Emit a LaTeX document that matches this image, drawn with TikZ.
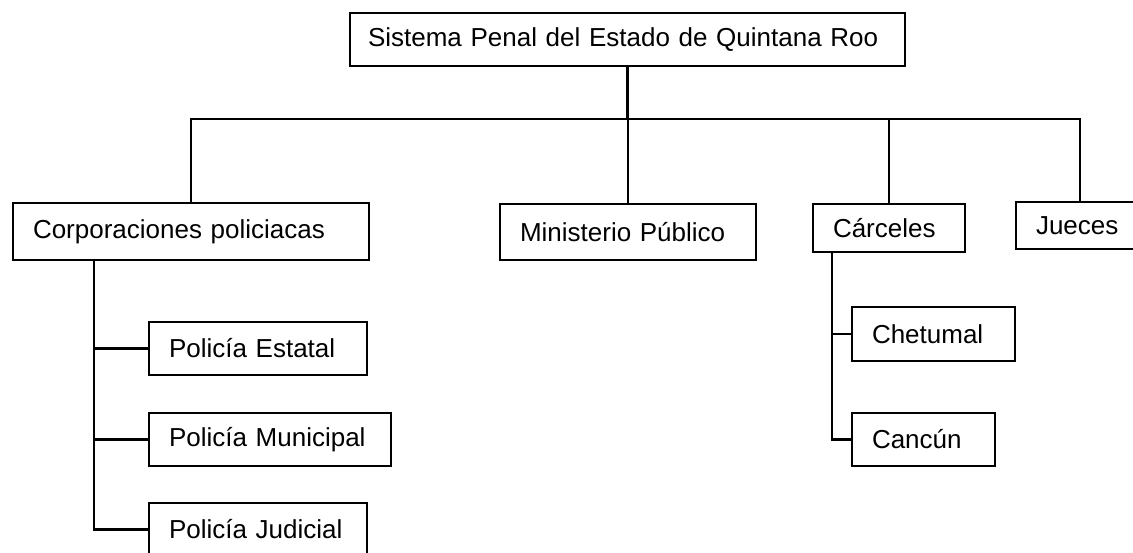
\documentclass[tikz,border=0pt]{standalone}
\usepackage{fontspec}
\setmainfont{Liberation Sans}
\usetikzlibrary{positioning}

\begin{document}
\begin{tikzpicture}[x=1pt, y=-1pt,
	box/.style={draw, line width=2pt, anchor=north west, align=left, inner xsep=20pt, inner ysep=0pt, font=\fontsize{26}{30}\selectfont},
	link/.style={line width=2.2pt}]
		\useasboundingbox (0,0) rectangle (1133,552);
		\node[box, inner xsep=18pt, text width=519pt, minimum height=53pt] (sistema) at (349,12) {Sistema Penal del Estado de Quintana Roo};
		\node[box, text width=316pt, minimum height=57pt] (corp) at (12,202) {Corporaciones policiacas};
		\node[box, text width=216pt, minimum height=56pt] (ministerio) at (499,203) {Ministerio Público};
		\node[box, text width=112pt, minimum height=48pt] (carceles) at (812,203) {Cárceles};
		\node[box, text width=88pt, minimum height=47pt] (jueces) at (1015,201) {Jueces};
		\node[box, text width=178pt, minimum height=53pt] (estatal) at (148,321) {Policía Estatal};
		\node[box, text width=202pt, minimum height=53pt] (municipal) at (148,412) {Policía Municipal};
		\node[box, text width=178pt, minimum height=53pt] (judicial) at (148,502) {Policía Judicial};
		\node[box, text width=123pt, minimum height=54pt] (chetumal) at (851,306) {Chetumal};
		\node[box, text width=103pt, minimum height=53pt] (cancun) at (851,412) {Cancún};
		\coordinate (bus) at (0,119);
		\coordinate (ctrunk) at ([xshift=82pt]corp.south west);
		\coordinate (ktrunk) at ([xshift=20pt]carceles.south west);
		\draw[link] (sistema.south) -- (sistema.south |- bus);
		\draw[link] (corp.north) |- (jueces.north |- bus) -- (jueces.north);
		\draw[link] (ministerio.north) -- (ministerio.north |- bus);
		\draw[link] (carceles.north) -- (carceles.north |- bus);
		\draw[link] (ctrunk) |- (judicial.west);
		\draw[link] (estatal.west) -- (estatal.west -| ctrunk);
		\draw[link] (municipal.west) -- (municipal.west -| ctrunk);
		\draw[link] (ktrunk) |- (cancun.west);
		\draw[link] (chetumal.west) -- (chetumal.west -| ktrunk);
	\end{tikzpicture}
\end{document}
